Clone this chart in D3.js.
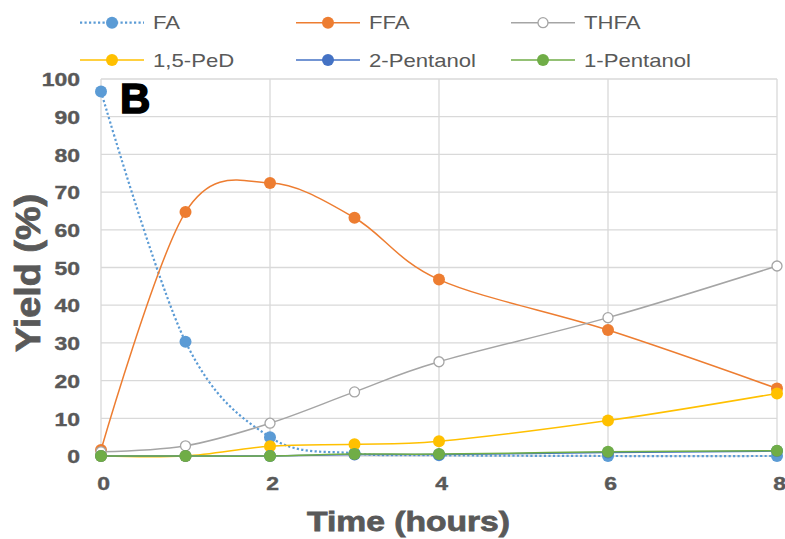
<!DOCTYPE html>
<html><head><meta charset="utf-8">
<script src="https://cdn.jsdelivr.net/npm/d3@7"></script>
<style>body{margin:0;background:#fff}</style>
</head><body>
<svg id="c" width="785" height="539"></svg>
<script>
// ---- data ----
const hours = [0, 1, 2, 3, 4, 6, 8];
const FA    = [96.7, 30.3, 5.0, 0.7, 0.2, 0, 0];
const FFA   = [1.6, 64.7, 72.4, 63.2, 46.8, 33.4, 17.9];
const THFA  = [1.1, 2.7, 8.7, 17.0, 25.0, 36.7, 50.4];
const PeD   = [0, 0, 2.6, 3.1, 3.9, 9.4, 16.6];
const Pent2 = [0, 0, 0, 0.4, 0.4, 0.9, 1.3];
const Pent1 = [0, 0, 0, 0.5, 0.5, 1.1, 1.4];
const seriesNames = ["FA", "FFA", "THFA", "1,5-PeD", "2-Pentanol", "1-Pentanol"];
const seriesValues = [FA, FFA, THFA, PeD, Pent2, Pent1];
const xTicks = [0, 2, 4, 6, 8];
const yTicks = [0, 10, 20, 30, 40, 50, 60, 70, 80, 90, 100];
const xTitle = "Time (hours)";
const yTitle = "Yield (%)";
const panelLabel = "B";

// ---- styles ----
const styles = [
  {color: "#5B9BD5", dash: "2.2,2.3", hollow: false},
  {color: "#ED7D31", dash: null, hollow: false},
  {color: "#A5A5A5", dash: null, hollow: true},
  {color: "#FFC000", dash: null, hollow: false},
  {color: "#4472C4", dash: null, hollow: false},
  {color: "#70AD47", dash: null, hollow: false}
];

const svg = d3.select("#c");
const x = d3.scaleLinear().domain([0, 8]).range([101, 777]);
const y = d3.scaleLinear().domain([0, 100]).range([456, 79]);

function stretch(sel, sx) {
  sel.each(function () {
    const t = d3.select(this);
    const tx = +t.attr("x") || 0, ty = +t.attr("y") || 0;
    const prev = t.attr("transform") || "";
    t.attr("x", 0).attr("y", 0)
     .attr("transform", prev + ` translate(${tx},${ty}) scale(${sx},1)`);
  });
}

// gridlines
const grid = svg.append("g");
grid.selectAll(".h").data(yTicks).join("line")
  .attr("x1", x(0)).attr("x2", x(8))
  .attr("y1", d => y(d)).attr("y2", d => y(d))
  .attr("stroke", "#D9D9D9").attr("stroke-width", 1.3);
grid.selectAll(".v").data(xTicks).join("line")
  .attr("x1", d => x(d)).attr("x2", d => x(d))
  .attr("y1", y(0)).attr("y2", y(100))
  .attr("stroke", "#D9D9D9").attr("stroke-width", 1.3);

// axes (labels only)
const yAxis = svg.append("g").attr("transform", `translate(${x(0)},0)`)
  .call(d3.axisLeft(y).tickValues(yTicks).tickSize(0).tickPadding(21));
yAxis.select(".domain").remove();
yAxis.selectAll("text")
  .attr("font-family", "Liberation Sans, Arial, sans-serif")
  .attr("font-weight", "bold").attr("font-size", 18.8)
  .attr("fill", "#595959").attr("stroke", "#595959").attr("stroke-width", 0.4)
  .attr("dy", "0.36em");
yAxis.selectAll("text").each(function () {
  d3.select(this).attr("x", -21).attr("y", 0).attr("dx", null);
});
stretch(yAxis.selectAll("text"), 1.22);

const xAxis = svg.append("g").attr("transform", `translate(0,${y(0)})`)
  .call(d3.axisBottom(x).tickValues(xTicks).tickSize(0));
xAxis.select(".domain").remove();
xAxis.selectAll("text")
  .attr("font-family", "Liberation Sans, Arial, sans-serif")
  .attr("font-weight", "bold").attr("font-size", 18.8)
  .attr("fill", "#595959").attr("stroke", "#595959").attr("stroke-width", 0.4)
  .attr("y", 34).attr("dy", 0).attr("x", 2);
stretch(xAxis.selectAll("text"), 1.22);

// series
const line = d3.line()
  .x((d, i) => x(hours[i]))
  .y(d => y(d))
  .curve(d3.curveCardinal.tension(0));

seriesValues.forEach((vals, si) => {
  const st = styles[si];
  const g = svg.append("g");
  g.append("path").datum(vals)
    .attr("d", line)
    .attr("fill", "none")
    .attr("stroke", st.color)
    .attr("stroke-width", st.dash ? 2.2 : 1.5)
    .attr("stroke-dasharray", st.dash);
  g.selectAll("circle").data(vals).join("circle")
    .attr("cx", (d, i) => x(hours[i]))
    .attr("cy", d => y(d))
    .attr("r", st.hollow ? 5 : 6)
    .attr("fill", st.hollow ? "#fff" : st.color)
    .attr("stroke", st.hollow ? st.color : "none")
    .attr("stroke-width", 1.3);
});

// panel label
svg.append("text").attr("x", 120).attr("y", 112.5)
  .attr("font-family", "Liberation Sans, Arial, sans-serif")
  .attr("font-weight", "bold").attr("font-size", 42)
  .attr("fill", "#000").attr("stroke", "#000").attr("stroke-width", 1.6)
  .text(panelLabel);

// axis titles
const xt = svg.append("text").attr("x", 408.5).attr("y", 531)
  .attr("text-anchor", "middle")
  .attr("font-family", "Liberation Sans, Arial, sans-serif")
  .attr("font-weight", "bold").attr("font-size", 28.5)
  .attr("fill", "#595959").attr("stroke", "#595959").attr("stroke-width", 0.8)
  .text(xTitle);
stretch(xt, 1.18);

svg.append("text")
  .attr("transform", "translate(39.5,273) rotate(-90) scale(1.08,1)")
  .attr("text-anchor", "middle")
  .attr("font-family", "Liberation Sans, Arial, sans-serif")
  .attr("font-weight", "bold").attr("font-size", 35)
  .attr("fill", "#595959").attr("stroke", "#595959").attr("stroke-width", 0.8)
  .text(yTitle);

// legend
const legCols = [112, 328, 543];
const legRows = [22.7, 60];
seriesNames.forEach((name, i) => {
  const st = styles[i];
  const cx = legCols[i % 3], cy = legRows[Math.floor(i / 3)];
  const g = svg.append("g");
  g.append("line").attr("x1", cx - 32).attr("x2", cx + 32)
    .attr("y1", cy).attr("y2", cy)
    .attr("stroke", st.color)
    .attr("stroke-width", st.dash ? 2.2 : 1.5)
    .attr("stroke-dasharray", st.dash);
  g.append("circle").attr("cx", cx).attr("cy", cy)
    .attr("r", st.hollow ? 5 : 6)
    .attr("fill", st.hollow ? "#fff" : st.color)
    .attr("stroke", st.hollow ? st.color : "none")
    .attr("stroke-width", 1.3);
  const t = g.append("text").attr("x", cx + 41).attr("y", cy + 6.7)
    .attr("font-family", "Liberation Sans, Arial, sans-serif")
    .attr("font-size", 18.6).attr("fill", "#595959").text(name);
  stretch(t, 1.19);
});
</script>
</body></html>
